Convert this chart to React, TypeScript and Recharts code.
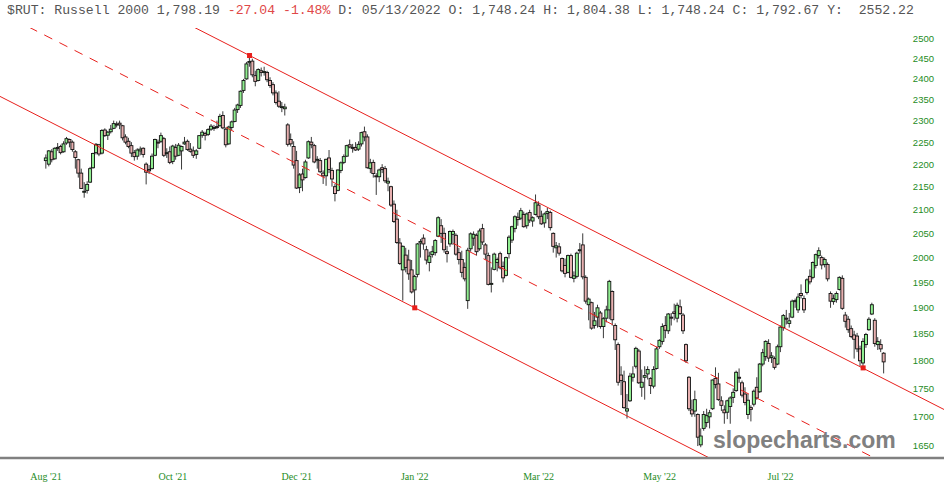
import React from 'react';
import { ComposedChart, Bar, XAxis, YAxis, ReferenceLine, ReferenceDot } from 'recharts';

// daily candles [open, high, low, close], Russell 2000, Aug 2021 - Sep 2022
type Ohlc = [number, number, number, number];

const aug21: Ohlc[] = [
  [2208, 2222, 2190, 2214], [2200, 2232, 2195, 2230], [2228, 2234, 2204, 2210], [2212, 2238, 2210, 2236],
  [2236, 2248, 2230, 2238], [2240, 2244, 2222, 2226], [2228, 2252, 2226, 2246], [2248, 2262, 2244, 2258],
  [2256, 2258, 2238, 2250], [2250, 2254, 2228, 2233], [2228, 2232, 2190, 2215], [2210, 2212, 2170, 2180],
  [2180, 2190, 2145, 2146], [2140, 2160, 2126, 2140], [2142, 2162, 2135, 2155], [2160, 2194, 2158, 2190],
  [2192, 2226, 2190, 2224], [2226, 2248, 2222, 2245], [2244, 2246, 2218, 2223], [2225, 2280, 2222, 2277],
  [2278, 2282, 2262, 2265], [2266, 2276, 2255, 2273],
];
const sep21: Ohlc[] = [
  [2274, 2290, 2270, 2280], [2282, 2300, 2280, 2293], [2292, 2298, 2284, 2292], [2294, 2300, 2280, 2290],
  [2288, 2290, 2254, 2260], [2262, 2268, 2245, 2250], [2252, 2260, 2236, 2240], [2242, 2250, 2216, 2225],
  [2226, 2232, 2208, 2217], [2218, 2236, 2210, 2232], [2230, 2240, 2220, 2234], [2236, 2238, 2215, 2222],
  [2200, 2204, 2155, 2182], [2188, 2198, 2178, 2185], [2190, 2224, 2188, 2218], [2220, 2258, 2218, 2256],
  [2250, 2256, 2236, 2248], [2252, 2272, 2248, 2265], [2258, 2262, 2216, 2220], [2224, 2236, 2214, 2226],
  [2228, 2240, 2200, 2204],
];
const oct21: Ohlc[] = [
  [2206, 2244, 2200, 2241], [2238, 2246, 2210, 2218], [2220, 2248, 2218, 2243], [2230, 2242, 2188, 2240],
  [2246, 2262, 2244, 2250], [2252, 2256, 2230, 2233], [2234, 2248, 2226, 2229], [2230, 2240, 2214, 2220],
  [2222, 2234, 2212, 2230], [2236, 2266, 2234, 2265], [2266, 2278, 2260, 2273], [2270, 2274, 2254, 2266],
  [2268, 2282, 2264, 2279], [2280, 2292, 2276, 2287], [2282, 2290, 2276, 2284], [2286, 2300, 2280, 2284],
  [2288, 2316, 2286, 2310], [2312, 2322, 2280, 2283], [2280, 2284, 2238, 2244], [2246, 2288, 2244, 2285],
  [2284, 2300, 2278, 2297],
];
const nov21: Ohlc[] = [
  [2298, 2330, 2296, 2325], [2326, 2340, 2318, 2337], [2336, 2372, 2330, 2370], [2372, 2400, 2366, 2396],
  [2400, 2442, 2398, 2437], [2440, 2458, 2430, 2443], [2444, 2450, 2404, 2410], [2408, 2420, 2382, 2394],
  [2396, 2426, 2394, 2423], [2420, 2428, 2406, 2416], [2418, 2430, 2408, 2418], [2416, 2420, 2392, 2398],
  [2396, 2404, 2378, 2384], [2386, 2392, 2360, 2366], [2366, 2372, 2338, 2343], [2346, 2370, 2330, 2334],
  [2332, 2344, 2320, 2333], [2328, 2340, 2312, 2332], [2290, 2294, 2240, 2245], [2256, 2270, 2240, 2246],
  [2240, 2252, 2190, 2198],
];
const dec21: Ohlc[] = [
  [2208, 2230, 2145, 2147], [2148, 2180, 2136, 2176], [2178, 2190, 2140, 2165], [2170, 2210, 2168, 2205],
  [2214, 2254, 2212, 2251], [2250, 2262, 2236, 2244], [2242, 2246, 2202, 2205], [2210, 2218, 2190, 2211],
  [2208, 2214, 2180, 2183], [2180, 2186, 2156, 2174], [2174, 2212, 2152, 2211], [2214, 2232, 2180, 2188],
  [2186, 2192, 2150, 2167], [2150, 2156, 2118, 2135], [2142, 2188, 2140, 2187], [2186, 2206, 2180, 2203],
  [2204, 2222, 2200, 2217], [2218, 2244, 2216, 2242], [2244, 2256, 2236, 2239], [2238, 2246, 2226, 2237],
  [2238, 2250, 2230, 2232], [2234, 2252, 2230, 2245],
];
const jan22: Ohlc[] = [
  [2246, 2274, 2240, 2272], [2274, 2286, 2252, 2262], [2262, 2268, 2190, 2192], [2190, 2212, 2180, 2203],
  [2204, 2210, 2170, 2179], [2174, 2180, 2132, 2172], [2172, 2190, 2160, 2187], [2192, 2200, 2180, 2188],
  [2190, 2196, 2158, 2163], [2158, 2170, 2140, 2162], [2150, 2152, 2106, 2110], [2112, 2120, 2072, 2075],
  [2080, 2100, 2028, 2031], [2030, 2040, 1985, 1988], [1975, 2025, 1914, 2023], [2005, 2020, 1970, 1980],
  [1995, 2016, 1955, 1967], [1975, 1995, 1928, 1931], [1935, 1965, 1900, 1962], [1966, 2030, 1960, 2028],
];
const feb22: Ohlc[] = [
  [2030, 2038, 2000, 2033], [2040, 2048, 2016, 2028], [2016, 2024, 1986, 1995], [1990, 2012, 1972, 2003],
  [2006, 2024, 2000, 2012], [2010, 2038, 2004, 2035], [2044, 2086, 2042, 2083], [2066, 2080, 2030, 2050],
  [2050, 2062, 2010, 2016], [2012, 2024, 1990, 2008], [2028, 2056, 2022, 2054], [2048, 2058, 2026, 2054],
  [2046, 2050, 2004, 2007], [2010, 2020, 1986, 1996], [1996, 2014, 1960, 1970], [1980, 1990, 1952, 1957],
  [1914, 2020, 1898, 2015], [2018, 2052, 2012, 2049], [2040, 2054, 2024, 2048],
];
const mar22: Ohlc[] = [
  [2046, 2050, 2004, 2012], [2018, 2060, 2014, 2055], [2060, 2070, 2026, 2032], [2026, 2030, 1996, 2007],
  [2004, 2010, 1944, 1946], [1946, 1980, 1930, 1948], [1976, 2010, 1974, 2007], [1990, 2000, 1972, 1996],
  [2008, 2012, 1976, 1979], [1982, 1992, 1950, 1959], [1964, 2002, 1962, 2000], [2008, 2046, 1998, 2042],
  [2036, 2066, 2030, 2064], [2060, 2088, 2052, 2085], [2084, 2094, 2066, 2079], [2082, 2104, 2078, 2098],
  [2090, 2096, 2062, 2064], [2066, 2094, 2060, 2091], [2094, 2100, 2072, 2078], [2076, 2086, 2064, 2083],
  [2090, 2133, 2088, 2115], [2110, 2118, 2080, 2085], [2086, 2098, 2068, 2070],
];
const apr22: Ohlc[] = [
  [2072, 2094, 2062, 2091], [2092, 2104, 2080, 2096], [2094, 2098, 2056, 2062], [2050, 2052, 2010, 2023],
  [2020, 2032, 2000, 2024], [2022, 2030, 2004, 2009], [1998, 2000, 1970, 1973], [1984, 1998, 1960, 1968],
  [1970, 2006, 1968, 2004], [2004, 2008, 1958, 1960], [1958, 1972, 1950, 1963], [1962, 2012, 1958, 2009],
  [2014, 2030, 2008, 2016], [2026, 2050, 1956, 1961], [1960, 1964, 1908, 1913], [1906, 1920, 1876, 1917],
  [1910, 1912, 1858, 1861], [1866, 1892, 1860, 1875], [1882, 1906, 1862, 1900], [1890, 1894, 1860, 1864],
];
const may22: Ohlc[] = [
  [1864, 1882, 1842, 1879], [1880, 1904, 1872, 1896], [1896, 1955, 1878, 1952], [1932, 1934, 1866, 1877],
  [1866, 1870, 1820, 1839], [1830, 1834, 1755, 1761], [1774, 1790, 1738, 1764], [1762, 1782, 1714, 1716],
  [1710, 1740, 1697, 1714], [1728, 1778, 1726, 1772], [1770, 1790, 1762, 1776], [1790, 1826, 1786, 1823],
  [1818, 1822, 1758, 1760], [1752, 1784, 1735, 1761], [1770, 1790, 1730, 1773], [1776, 1790, 1766, 1784],
  [1768, 1770, 1740, 1755], [1754, 1790, 1750, 1784], [1786, 1826, 1784, 1822], [1826, 1840, 1822, 1838],
  [1836, 1870, 1830, 1864],
];
const jun22: Ohlc[] = [
  [1866, 1884, 1842, 1857], [1856, 1890, 1850, 1888], [1882, 1890, 1866, 1880], [1892, 1908, 1876, 1889],
  [1880, 1910, 1872, 1905], [1902, 1916, 1886, 1889], [1886, 1890, 1850, 1856], [1830, 1832, 1796, 1800],
  [1770, 1772, 1710, 1714], [1712, 1730, 1700, 1705], [1710, 1746, 1700, 1730], [1704, 1706, 1650, 1665],
  [1652, 1680, 1648, 1667], [1680, 1710, 1676, 1704], [1690, 1714, 1682, 1702], [1700, 1712, 1680, 1707],
  [1714, 1766, 1712, 1765], [1768, 1788, 1750, 1757], [1758, 1778, 1728, 1730], [1728, 1736, 1710, 1720],
  [1712, 1720, 1688, 1707],
];
const jul22: Ohlc[] = [
  [1708, 1730, 1696, 1728], [1718, 1736, 1688, 1733], [1734, 1750, 1724, 1743], [1746, 1782, 1744, 1779],
  [1770, 1786, 1760, 1769], [1760, 1764, 1734, 1738], [1740, 1752, 1720, 1725], [1704, 1740, 1696, 1729],
  [1716, 1720, 1692, 1713], [1722, 1748, 1718, 1745], [1752, 1770, 1730, 1733], [1744, 1796, 1742, 1794],
  [1794, 1822, 1790, 1815], [1808, 1838, 1800, 1836], [1832, 1840, 1798, 1805], [1806, 1816, 1796, 1809],
  [1804, 1808, 1784, 1788], [1794, 1830, 1792, 1826], [1826, 1866, 1816, 1863], [1862, 1888, 1856, 1885],
];
const aug22: Ohlc[] = [
  [1880, 1896, 1868, 1878], [1870, 1890, 1862, 1875], [1882, 1916, 1880, 1913], [1912, 1918, 1900, 1914],
  [1896, 1928, 1890, 1921], [1928, 1946, 1918, 1924], [1918, 1924, 1890, 1896], [1930, 1958, 1926, 1955],
  [1962, 1976, 1946, 1951], [1960, 1992, 1956, 1990], [1984, 2008, 1978, 2006], [2004, 2021, 1998, 2014],
  [2000, 2004, 1976, 1985], [1986, 2000, 1980, 1996], [1986, 1990, 1952, 1957], [1928, 1932, 1900, 1913],
  [1912, 1926, 1906, 1918], [1916, 1932, 1910, 1928], [1936, 1962, 1934, 1960], [1958, 1964, 1896, 1899],
  [1886, 1892, 1862, 1874], [1878, 1884, 1852, 1858], [1860, 1866, 1842, 1845],
];
const sep22: Ohlc[] = [
  [1848, 1856, 1804, 1840], [1846, 1852, 1816, 1822], [1822, 1828, 1790, 1800], [1796, 1842, 1787, 1836],
  [1830, 1852, 1824, 1849], [1858, 1882, 1856, 1878], [1888, 1910, 1886, 1906], [1876, 1880, 1826, 1832],
  [1830, 1844, 1820, 1836], [1830, 1840, 1816, 1822], [1814, 1816, 1777, 1798],
];

const xTicks = [0, 43, 85, 125, 167, 208, 249];
const xTickLabels = ["Aug '21", "Oct '21", "Dec '21", "Jan '22", "Mar '22", "May '22", "Jul '22"];
const yTicks = [1650, 1700, 1750, 1800, 1850, 1900, 1950, 2000, 2050, 2100, 2150, 2200, 2250, 2300, 2350, 2400, 2450, 2500];

// channel drawn on the chart: [bar index, price] at both ends
const upperChannel = [{ x: -16, y: 2800.5 }, { x: 305, y: 1711.2 }];
const middleChannel = [{ x: -16, y: 2570.3 }, { x: 305, y: 1570.6 }];
const lowerChannel = [{ x: -16, y: 2359 }, { x: 305, y: 1441.5 }];
const pivots = [{ x: 69, y: 2458 }, { x: 125, y: 1900 }, { x: 277, y: 1787 }];

const candles = [aug21, sep21, oct21, nov21, dec21, jan22, feb22, mar22, apr22, may22, jun22, jul22, aug22, sep22]
  .flat()
  .map((t, i) => ({ i, o: t[0], h: t[1], l: t[2], c: t[3], range: [t[2], t[1]] }));

const CHANNEL = '#e8201c';
const LABEL_GREEN = '#1e8c1e';

const Candle = (props: any) => {
  const { x, y, width, height, payload } = props;
  if (x == null || y == null) return null;
  const top = Math.min(y, y + height);
  const bottom = Math.max(y, y + height);
  const cx = x + width / 2;
  const span = Math.log(payload.h) - Math.log(payload.l);
  const toY = (v: number) => (span > 0 ? top + ((Math.log(payload.h) - Math.log(v)) / span) * (bottom - top) : top);
  const yo = toY(payload.o);
  const yc = toY(payload.c);
  const up = payload.c >= payload.o;
  const bodyTop = Math.min(yo, yc);
  const bodyH = Math.max(Math.abs(yc - yo), 1);
  return (
    <g>
      <line x1={cx} x2={cx} y1={top} y2={bottom} stroke="#3a3a3a" strokeWidth={1} />
      <rect x={cx - 1.5} y={bodyTop} width={3} height={bodyH} fill={up ? '#90ee90' : '#e8b0b0'} stroke="#111" strokeWidth={0.9} />
    </g>
  );
};

const Pivot = (props: any) => (
  <rect x={props.cx - 2.5} y={props.cy - 2.5} width={5} height={5} fill={CHANNEL} />
);

const App: React.FC = () => {
  return (
    <div style={{ position: 'relative', width: 944, height: 498, background: '#fff' }}>
      <style>{'body { margin: 0; }'}</style>
      <ComposedChart width={944} height={498} data={candles} margin={{ top: 28, right: 0, bottom: 0, left: 0 }}>
        <XAxis
          type="number"
          dataKey="i"
          domain={[-15.59, 304.41]}
          allowDataOverflow
          ticks={xTicks}
          interval={0}
          tickFormatter={(v: number) => xTickLabels[xTicks.indexOf(v)] ?? ''}
          tickLine={false}
          tickMargin={9}
          height={40}
          axisLine={{ stroke: '#808080', strokeWidth: 2.5 }}
          tick={{ fill: LABEL_GREEN, fontSize: 10, fontFamily: '"Liberation Serif", serif' }}
        />
        <YAxis
          orientation="right"
          mirror
          scale="log"
          domain={[1630, 2528]}
          allowDataOverflow
          ticks={yTicks}
          interval={0}
          tickLine={false}
          axisLine={false}
          tickSize={8}
          tickMargin={2}
          tick={{ fill: LABEL_GREEN, fontSize: 9.5, fontFamily: '"Liberation Sans", Arial, sans-serif' }}
        />
        <Bar dataKey="range" barSize={3} shape={<Candle />} isAnimationActive={false} />
        <ReferenceLine segment={upperChannel} stroke={CHANNEL} strokeWidth={1} ifOverflow="hidden" />
        <ReferenceLine segment={middleChannel} stroke={CHANNEL} strokeWidth={1} strokeDasharray="9 8" ifOverflow="hidden" />
        <ReferenceLine segment={lowerChannel} stroke={CHANNEL} strokeWidth={1} ifOverflow="hidden" />
        {pivots.map((p, k) => (
          <ReferenceDot key={k} x={p.x} y={p.y} r={3} shape={<Pivot />} ifOverflow="visible" />
        ))}
      </ComposedChart>
      <div
        style={{
          position: 'absolute', left: 7, top: 4, fontFamily: '"Liberation Mono", monospace', fontSize: 13.15,
          color: '#555', whiteSpace: 'pre', lineHeight: '14px',
        }}
      >
        $RUT: Russell 2000 1,798.19 <span style={{ color: '#e04848' }}>-27.04 -1.48%</span> D: 05/13/2022 O: 1,748.24 H: 1,804.38 L: 1,748.24 C: 1,792.67 Y:  2552.22
      </div>
      <div
        style={{
          position: 'absolute', left: 713, top: 427, fontFamily: '"Liberation Sans", Arial, sans-serif', fontSize: 23,
          fontWeight: 'bold', color: '#808080', lineHeight: '26px',
        }}
      >
        slopecharts.com
      </div>
    </div>
  );
};

export default App;
